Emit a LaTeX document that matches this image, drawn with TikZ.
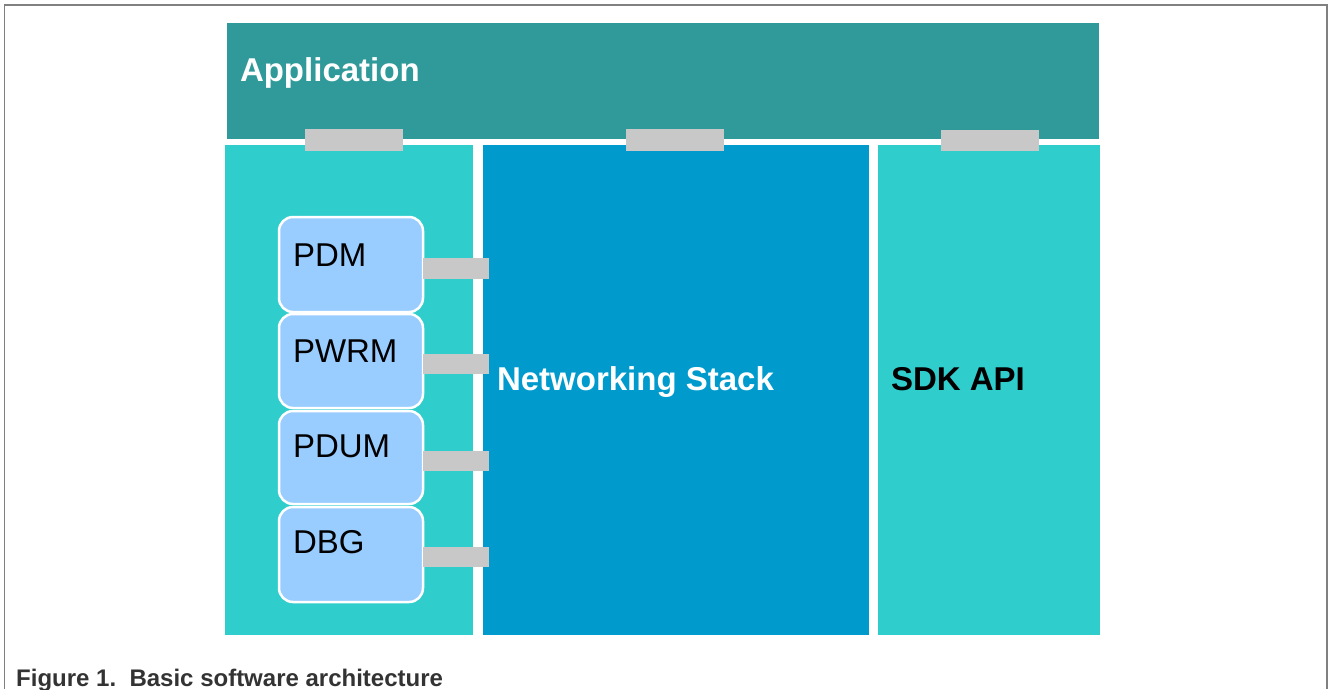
\documentclass[tikz,border=0pt]{standalone}
\usepackage{fontspec}
\setmainfont{Liberation Sans}
\definecolor{appteal}{HTML}{309999}
\definecolor{panel}{HTML}{30CDCD}
\definecolor{netblue}{HTML}{009BCC}
\definecolor{barcol}{HTML}{C8C8C8}
\definecolor{modcol}{HTML}{99CCFF}
\definecolor{framecol}{HTML}{808080}
\definecolor{captxt}{HTML}{333333}
\tikzset{
  block/.style={rectangle, inner sep=0pt, outer sep=0pt, anchor=north west, draw=none},
  modbox/.style={rectangle, rounded corners=14pt, inner sep=0pt, outer sep=0pt, anchor=north west,
    fill=modcol, draw=white, line width=2.5pt, minimum width=144pt},
  barbox/.style={rectangle, inner sep=0pt, outer sep=0pt, anchor=north west, fill=barcol, draw=none},
  lbl/.style={anchor=base west, inner sep=0pt, outer sep=0pt, font=\fontsize{33}{36}\selectfont},
  blbl/.style={lbl, font=\fontsize{33}{36}\selectfont\bfseries},
}
\begin{document}
\begin{tikzpicture}[x=1pt,y=-1pt]
\useasboundingbox (0,0) rectangle (1328,689);
% frame
\draw[framecol, line width=1.5pt] (4.5,689) -- (4.5,5) -- (1327,5) -- (1327,689);
% main blocks
\node[block, fill=appteal, minimum width=872pt, minimum height=116pt] (app) at (227,23) {};
\node[block, fill=panel, minimum width=248pt, minimum height=490pt] (left) at (225,145) {};
\node[block, fill=netblue, minimum width=386pt, minimum height=490pt] (net) at (483,145) {};
\node[block, fill=panel, minimum width=222pt, minimum height=490pt] (sdk) at (878,145) {};
% modules
\node[modbox, minimum height=95pt] (pdm) at (279,217) {};
\node[modbox, minimum height=94pt] (pwrm) at (279,314) {};
\node[modbox, minimum height=93pt] (pdum) at (279,411) {};
\node[modbox, minimum height=95pt] (dbg) at (279,507) {};
% interface bars
\node[barbox, minimum width=98pt, minimum height=22pt] (b1) at (305,129) {};
\node[barbox, minimum width=98pt, minimum height=22pt] (b2) at (626,129) {};
\node[barbox, minimum width=98pt, minimum height=21pt] (b3) at (941,130) {};
\node[barbox, minimum width=66pt, minimum height=21pt] (s1) at (423,258) {};
\node[barbox, minimum width=66pt, minimum height=20pt] (s2) at (423,354) {};
\node[barbox, minimum width=66pt, minimum height=20pt] (s3) at (423,451) {};
\node[barbox, minimum width=66pt, minimum height=20pt] (s4) at (423,547) {};
% labels
\node[blbl, text=white] (tapp) at (240,81) {Application};
\node[lbl] (tpdm) at (293,266) {PDM};
\node[lbl] (tpwrm) at (293,362) {PWRM};
\node[lbl] (tpdum) at (293,457) {PDUM};
\node[lbl] (tdbg) at (293,553) {DBG};
\node[blbl, text=white] (tnet) at (497,390) {Networking Stack};
\node[blbl, text=black] (tsdk) at (891,390) {SDK API};
\node[anchor=base west, inner sep=0pt, text=captxt, font=\fontsize{24}{26}\selectfont\bfseries] (cap) at (16,686) {Figure 1.\ \ Basic software architecture};
\end{tikzpicture}
\end{document}
